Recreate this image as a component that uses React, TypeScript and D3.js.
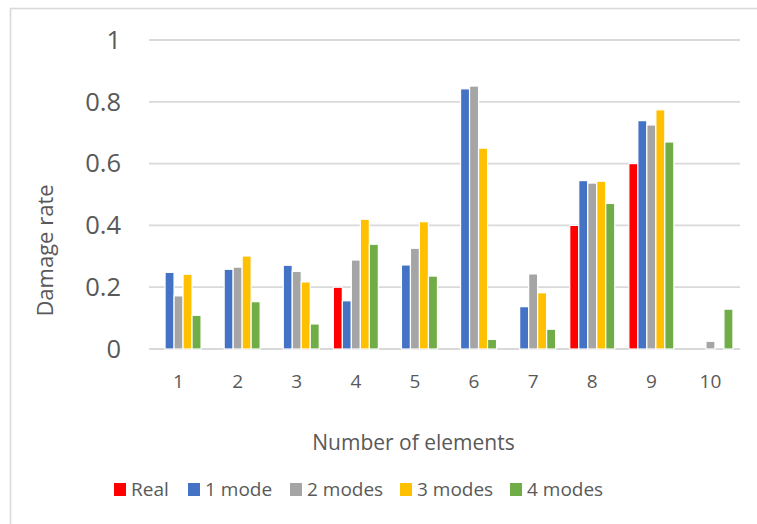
import React from "react";
import * as d3 from "d3";

// Categories along the x axis
const categories = ["1", "2", "3", "4", "5", "6", "7", "8", "9", "10"];

// Series names (legend order)
const seriesNames = ["Real", "1 mode", "2 modes", "3 modes", "4 modes"];
const seriesColors = ["#ff0000", "#4472c4", "#a5a5a5", "#ffc000", "#70ad47"];

// Damage rate per element for each series (null = no bar)
const real: (number | null)[] = [null, null, null, 0.2, null, null, null, 0.4, 0.6, null];
const mode1: (number | null)[] = [0.248, 0.258, 0.271, 0.156, 0.272, 0.842, 0.137, 0.545, 0.739, null];
const modes2: (number | null)[] = [0.172, 0.265, 0.251, 0.288, 0.326, 0.851, 0.243, 0.537, 0.725, 0.025];
const modes3: (number | null)[] = [0.242, 0.301, 0.217, 0.42, 0.412, 0.65, 0.182, 0.543, 0.774, null];
const modes4: (number | null)[] = [0.109, 0.153, 0.081, 0.339, 0.236, 0.031, 0.064, 0.471, 0.67, 0.129];

const seriesValues = [real, mode1, modes2, modes3, modes4];

// Y axis ticks
const yTicks = [0, 0.2, 0.4, 0.6, 0.8, 1];

const W = 757;
const H = 524;
const plotLeft = 149;
const plotRight = 740;
const plotTop = 40;
const plotBottom = 349;

const textColor = "#595959";
const gridColor = "#d9d9d9";
const font = "'Open Sans', 'Noto Sans', sans-serif";

export default function App() {
  const x = d3
    .scaleBand<string>()
    .domain(categories)
    .range([plotLeft, plotRight])
    .paddingInner(0.2386)
    .paddingOuter(0.1193);

  const xInner = d3
    .scaleBand<string>()
    .domain(seriesNames)
    .range([0, x.bandwidth()]);

  const y = d3.scaleLinear().domain([0, 1]).range([plotBottom, plotTop]);

  const legendItems = [
    { sx: 114, tx: 131 },
    { sx: 188, tx: 205 },
    { sx: 290, tx: 307 },
    { sx: 400, tx: 417 },
    { sx: 510, tx: 527 },
  ];

  return (
    <svg
      width={W}
      height={H}
      style={{ position: "absolute", left: 0, top: 0, background: "#ffffff" }}
      fontFamily={font}
    >
      <rect x={0} y={0} width={W} height={H} fill="#ffffff" />
      {/* chart area border */}
      <rect
        x={10.5}
        y={8.5}
        width={W + 20}
        height={H + 20}
        fill="none"
        stroke={gridColor}
        strokeWidth={1.6}
      />

      {/* gridlines */}
      {yTicks.map((t) => (
        <line
          key={"g" + t}
          x1={plotLeft}
          x2={plotRight}
          y1={y(t)}
          y2={y(t)}
          stroke={gridColor}
          strokeWidth={1.8}
        />
      ))}

      {/* y tick labels */}
      {yTicks.map((t) => (
        <text
          key={"yt" + t}
          x={121}
          y={y(t) + 8.8}
          textAnchor="end"
          fontSize={25.5}
          fill={textColor}
        >
          {String(t)}
        </text>
      ))}

      {/* bars */}
      {seriesValues.map((vals, si) =>
        vals.map((v, ci) =>
          v == null ? null : (
            <rect
              key={`b${si}-${ci}`}
              x={(x(categories[ci]) as number) + (xInner(seriesNames[si]) as number)}
              y={y(v)}
              width={xInner.bandwidth()}
              height={y(0) - y(v)}
              fill={seriesColors[si]}
              stroke="#ffffff"
              strokeWidth={1.2}
            />
          )
        )
      )}

      {/* x tick labels */}
      {categories.map((c) => (
        <text
          key={"xt" + c}
          x={(x(c) as number) + x.bandwidth() / 2}
          y={388}
          textAnchor="middle"
          fontSize={19}
          fill={textColor}
        >
          {c}
        </text>
      ))}

      {/* axis titles */}
      <text x={413.5} y={449.5} textAnchor="middle" fontSize={21} fill={textColor}>
        Number of elements
      </text>
      <text
        transform="translate(53,250.5) rotate(-90)"
        textAnchor="middle"
        fontSize={22}
        fill={textColor}
      >
        Damage rate
      </text>

      {/* legend */}
      {seriesNames.map((name, i) => (
        <g key={"l" + name}>
          <rect x={legendItems[i].sx} y={483} width={12} height={13} fill={seriesColors[i]} />
          <text x={legendItems[i].tx} y={496} fontSize={19} fill={textColor}>
            {name}
          </text>
        </g>
      ))}
    </svg>
  );
}
